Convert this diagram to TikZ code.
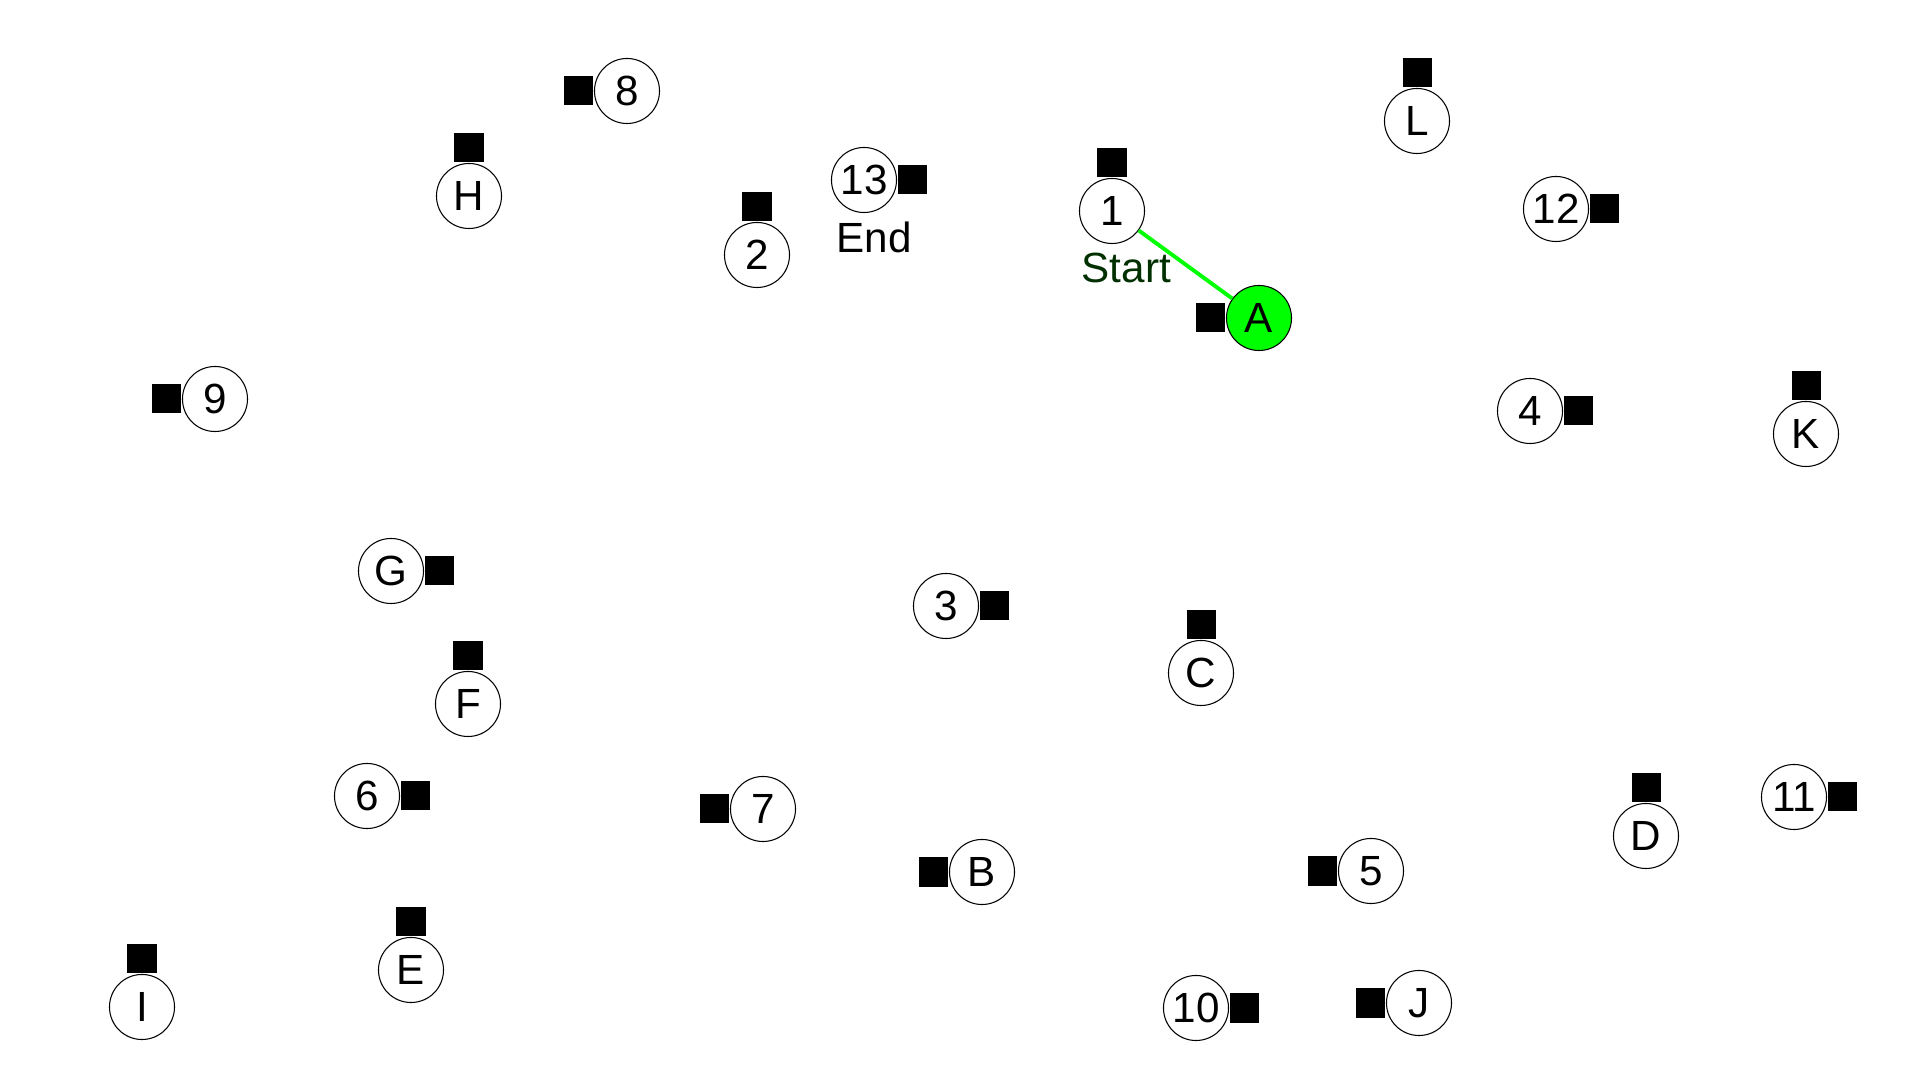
\documentclass[tikz,border=0pt]{standalone}
\usepackage{fontspec}
\setmainfont{Liberation Sans}
\usetikzlibrary{positioning}
\definecolor{visit}{RGB}{0,255,0}
\definecolor{lblc}{RGB}{0,48,0}
\newcommand{\Cd}{0.65cm}
\newcommand{\Sd}{0.29cm}
\newcommand{\Fs}{\fontsize{12}{14}\selectfont}

\begin{document}
\begin{tikzpicture}[
    x=0.01cm, y=-0.01cm,
    stop/.style={circle, draw=black, line width=0.3pt, fill=white, minimum size=\Cd, inner sep=0pt, font=\Fs},
    here/.style={stop, fill=visit},
    pin/.style={rectangle, fill=black, minimum size=\Sd, inner sep=0pt},
    route/.style={draw=visit, line width=1.1pt},
    tag/.style={font=\Fs, anchor=base west, inner sep=0pt},
  ]
  \useasboundingbox (0,0) rectangle (1920,1080);

  % --- stops, each with its square on one side
  \foreach \n/\x/\y/\s in {8/627/91/left, H/469/196/above, 13/864/180/right,
      2/757/255/above, 1/1112/211/above, L/1417/121/above, 12/1556/209/right,
      9/215/399/left, 4/1530/411/right, K/1806/434/above, G/391/571/right,
      3/946/606/right, C/1201/673/above, F/468/704/above, 6/367/796/right,
      7/763/809/left, B/982/872/left, 5/1371/871/left, D/1646/836/above,
      11/1794/797/right, E/411/970/above, I/142/1007/above, 10/1196/1008/right,
      J/1419/1003/left} {
    \node[stop] (n\n) at (\x,\y) {\n};
    \node[pin, \s=0pt of n\n] (p\n) {};
  }

  % --- current stop
  \node[here] (nA) at (1259,318) {A};
  \node[pin, left=0pt of nA] (pA) {};

  \draw[route] (n1) -- (nA);

  \node[tag, text=lblc] (start) at (1081,283) {Start};
  \node[tag] (end) at (836,253) {End};

\end{tikzpicture}
\end{document}
